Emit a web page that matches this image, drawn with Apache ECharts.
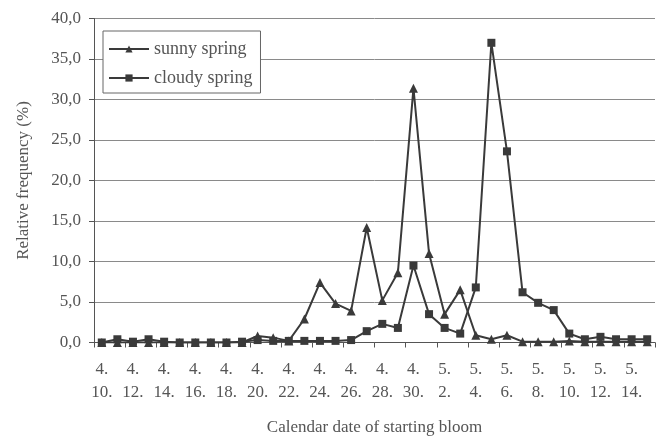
<!DOCTYPE html>
<html>
<head>
<meta charset="utf-8">
<script src="https://cdn.jsdelivr.net/npm/echarts@6/dist/echarts.min.js"></script>
<style>html,body{margin:0;padding:0;background:#fff;}#c{width:662px;height:436px;}</style>
</head>
<body>
<div id="c"></div>
<script>
var categories = ['4.10','4.11','4.12','4.13','4.14','4.15','4.16','4.17','4.18','4.19','4.20','4.21','4.22','4.23','4.24','4.25','4.26','4.27','4.28','4.29','4.30','5.1','5.2','5.3','5.4','5.5','5.6','5.7','5.8','5.9','5.10','5.11','5.12','5.13','5.14','5.15'];
var sunny = [0,0,0,0,0,0,0,0,0,0,0.8,0.6,0.2,2.9,7.4,4.8,3.9,14.2,5.2,8.6,31.4,11.0,3.5,6.5,0.9,0.4,0.9,0.1,0.1,0.1,0.2,0.1,0.1,0.1,0.1,0.1];
var cloudy = [0,0.4,0.1,0.4,0.1,0,0,0,0,0.1,0.3,0.2,0.2,0.2,0.2,0.2,0.3,1.4,2.3,1.8,9.5,3.5,1.8,1.1,6.8,37.0,23.6,6.2,4.9,4.0,1.1,0.4,0.7,0.4,0.4,0.4];
var yTicks = [0,5,10,15,20,25,30,35,40];

var font = 'Liberation Serif';
var txt = '#555';
var chart = echarts.init(document.getElementById('c'), null, {renderer:'canvas'});
chart.setOption({
  animation:false,
  backgroundColor:'#fff',
  grid:{left:94, right:7, top:18.5, bottom:93.5, containLabel:false, outerBoundsMode:'none'},
  legend:{
    orient:'vertical', left:103, top:31,
    padding:[9,8,6,5], itemGap:11,
    backgroundColor:'#fff',
    borderColor:'#666', borderWidth:1,
    itemWidth:40, itemHeight:9,
    textStyle:{fontFamily:font, fontSize:18, color:txt},
    data:['sunny spring','cloudy spring']
  },
  xAxis:{
    type:'category', data:categories, boundaryGap:true,
    name:'Calendar date of starting bloom', nameLocation:'middle', nameGap:77,
    nameTextStyle:{fontFamily:font, fontSize:17, color:txt},
    axisLine:{lineStyle:{color:'#555', width:1}},
    axisTick:{show:true, interval:1, length:5, lineStyle:{color:'#555'}},
    axisLabel:{interval:1, fontFamily:font, fontSize:17, color:txt, lineHeight:23, margin:16,
      formatter:function(v){ return v.replace('.', '.\n') + '.'; }},
    splitLine:{show:false}
  },
  yAxis:{
    type:'value', min:0, max:40, interval:5,
    name:'Relative frequency (%)', nameLocation:'middle', nameGap:62, nameRotate:90,
    nameTextStyle:{fontFamily:font, fontSize:17, color:txt},
    axisLine:{show:true, lineStyle:{color:'#555', width:1}},
    axisTick:{show:true, length:5, lineStyle:{color:'#555'}},
    axisLabel:{fontFamily:font, fontSize:17, color:txt, margin:13,
      formatter:function(v){ return yTicks.indexOf(v) >= 0 ? v.toFixed(1).replace('.', ',') : ''; }},
    splitLine:{show:true, lineStyle:{color:'#8a8a8a', width:1}}
  },
  series:[
    {name:'sunny spring', type:'line', data:sunny, symbol:'triangle', symbolSize:9,
      lineStyle:{color:'#3a3a3a', width:2}, itemStyle:{color:'#3a3a3a'}},
    {name:'cloudy spring', type:'line', data:cloudy, symbol:'rect', symbolSize:8,
      lineStyle:{color:'#3a3a3a', width:2}, itemStyle:{color:'#3a3a3a'}}
  ]
});
</script>
</body>
</html>
